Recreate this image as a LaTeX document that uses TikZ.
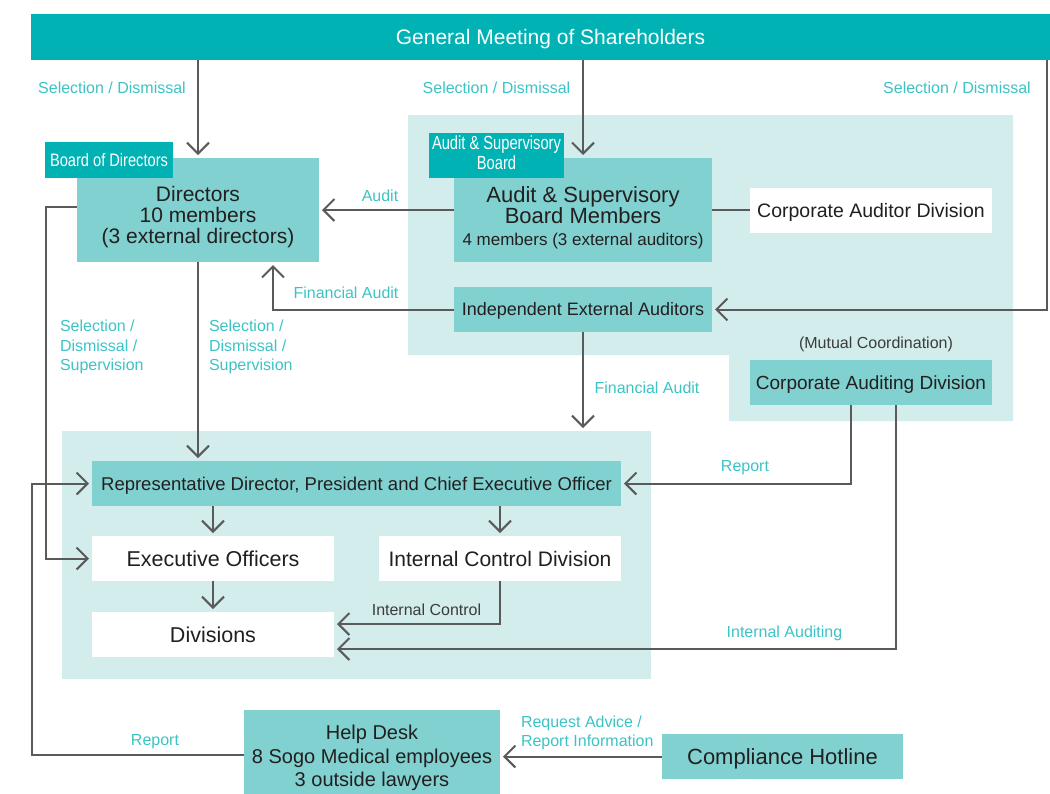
\documentclass[tikz,border=0pt]{standalone}
\usepackage{graphicx}
\usepackage{fontspec}
\setmainfont{Liberation Sans}
\usetikzlibrary{arrows.meta}

\definecolor{darkteal}{HTML}{00B2B4}
\definecolor{midteal}{HTML}{80D1D0}
\definecolor{lightteal}{HTML}{D3ECEC}
\definecolor{labcol}{HTML}{3CC3C5}
\definecolor{lncol}{HTML}{5A5A5A}
\definecolor{ink}{HTML}{231F20}
\definecolor{greyink}{HTML}{3C3C3C}

\newcommand{\fsz}[2]{\fontsize{#1}{#2}\selectfont}

\begin{document}
\begin{tikzpicture}[x=1pt,y=-1pt,
  every node/.style={inner sep=0pt, outer sep=0pt},
  % single-line text centred on its capital letters
  f/.style={font=\fsz{#1}{#1}, text height=0.72*#1pt, text depth=0pt},
  box/.style={fill=midteal, text=ink, align=center, minimum height=45pt},
  wbox/.style={fill=white, text=ink, align=center, minimum height=45pt},
  tagbox/.style={fill=darkteal, text=white, align=center},
  btext/.style={text=ink, align=center},
  lab/.style={text=labcol, font=\fsz{16}{19.5}, align=left},
  lab1/.style={text=labcol, f=16},
  note/.style={text=greyink, f=16},
  line/.style={draw=lncol, line width=2pt},
  arr/.style={line, -{Straight Barb[length=11pt,width=22pt]}, shorten >=3pt},
]
\useasboundingbox (0,0) rectangle (1050,793);

% shaded areas: audit block and management block
\fill[lightteal] (408,115) -- (1013,115) -- (1013,421) -- (729,421) -- (729,355) -- (408,355) -- cycle;
\node[fill=lightteal, minimum width=589pt, minimum height=248pt] (mgmt) at (356.5,555) {};

% shareholders bar
\node[fill=darkteal, text=white, f=21, minimum width=1039pt, minimum height=46pt] (gm) at (550.5,37) {General Meeting of Shareholders};

% board of directors
\node[box, minimum width=242pt, minimum height=104pt] (dir) at (198,210) {};
\node[btext, font=\fsz{21}{21}] (dirT) at (198,217) {Directors\\10 members\\(3 external directors)};
\node[tagbox, minimum width=128pt, minimum height=36pt] (bod) at (109,160) {\resizebox{118pt}{\height}{\fsz{18}{18}Board of Directors}};

% audit & supervisory board
\node[box, minimum width=258pt, minimum height=104pt] (asb) at (583,210) {};
\node[btext, font=\fsz{22}{21}] (asbT) at (583,217.5) {Audit \& Supervisory\\Board Members\\[1pt]{\fsz{17}{21}4 members (3 external auditors)}};
\node[tagbox, minimum width=135pt, minimum height=45pt] (asbtag) at (496.5,155.5) {\resizebox{129pt}{\height}{\fsz{19}{19}\begin{tabular}{@{}c@{}}Audit \& Supervisory\\Board\end{tabular}}};

\node[wbox, minimum width=242pt, f=19.5] (cad) at (871,210.5) {Corporate Auditor Division};
\node[box, minimum width=258pt, f=18] (iea) at (583,309.5) {Independent External Auditors};
\node[note] (mutual) at (876,343) {(Mutual Coordination)};
\node[box, minimum width=242pt, f=19] (cau) at (871,382.5) {Corporate Auditing Division};

% management
\node[box, minimum width=529pt, f=18.5] (ceo) at (356.5,483.5) {Representative Director, President and Chief Executive Officer};
\node[wbox, minimum width=242pt, f=21.5] (eo) at (213,558.5) {Executive Officers};
\node[wbox, minimum width=242pt, f=21] (icd) at (500,558.5) {Internal Control Division};
\node[wbox, minimum width=242pt, f=21.5] (div) at (213,634.5) {Divisions};

% compliance
\node[box, minimum width=256pt, minimum height=90pt] (hd) at (372,755) {};
\node[btext, font=\fsz{20}{23.5}] (hdT) at (372,758) {Help Desk\\8 Sogo Medical employees\\3 outside lawyers};
\node[box, minimum width=241pt, f=22] (ch) at (782.5,756.5) {Compliance Hotline};

% connector labels
\node[lab1] (s1) at (112,88) {Selection / Dismissal};
\node[lab1] (s2) at (496.5,88) {Selection / Dismissal};
\node[lab1] (s3) at (957,88) {Selection / Dismissal};
\node[lab1] (la) at (380,196) {Audit};
\node[lab1] (lfa1) at (346,293) {Financial Audit};
\node[lab, anchor=west] (lsd1) at (60,347) {Selection /\\Dismissal /\\Supervision};
\node[lab, anchor=west] (lsd2) at (209,347) {Selection /\\Dismissal /\\Supervision};
\node[lab1] (lfa2) at (647,388) {Financial Audit};
\node[lab1] (lrep1) at (745,466) {Report};
\node[lab1] (lia) at (784.5,632) {Internal Auditing};
\node[note] (lic) at (426.5,610) {Internal Control};
\node[lab1] (lrep2) at (155,740) {Report};
\node[lab, anchor=west] (lreq) at (521,733) {Request Advice /\\Report Information};

% connectors
\coordinate (rt) at (1047,309.5);
\coordinate (fa) at (273,262);
\coordinate (rp) at (851,400);
\coordinate (ia) at (896,649);
\coordinate (lb) at (46,207);
\coordinate (ic) at (500,624);
\coordinate (rl) at (32,755);

\draw[arr] (gm.south -| dir.north) -- (dir.north);
\draw[arr] (gm.south -| asb.north) -- (asb.north);
\draw[arr] (gm.south -| rt) -- (rt) -- (iea.east);
\draw[arr] (asb.west) -- (dir.east);
\draw[line] (asb.east) -- (cad.west |- asb.east);
\draw[arr] (iea.west) -| (fa);
\draw[arr] (iea.south) -- (iea.south |- mgmt.north);
\draw[arr] (cau.south -| rp) |- (ceo.east);
\draw[arr] (cau.south -| ia) -- (ia) -- (div.east |- ia);
\draw[arr] (dir.south) -- (ceo.north -| dir.south);
\draw[arr] (dir.west |- lb) -- (lb) |- (eo.west);
\draw[arr] (ceo.south -| eo.north) -- (eo.north);
\draw[arr] (ceo.south -| icd.north) -- (icd.north);
\draw[arr] (eo.south) -- (div.north);
\draw[arr] (icd.south) -- (ic) -- (div.east |- ic);
\draw[arr] (hd.west) -- (rl) |- (ceo.west);
\draw[arr] (ch.west) -- (hd.east |- ch.west);
\end{tikzpicture}
\end{document}
